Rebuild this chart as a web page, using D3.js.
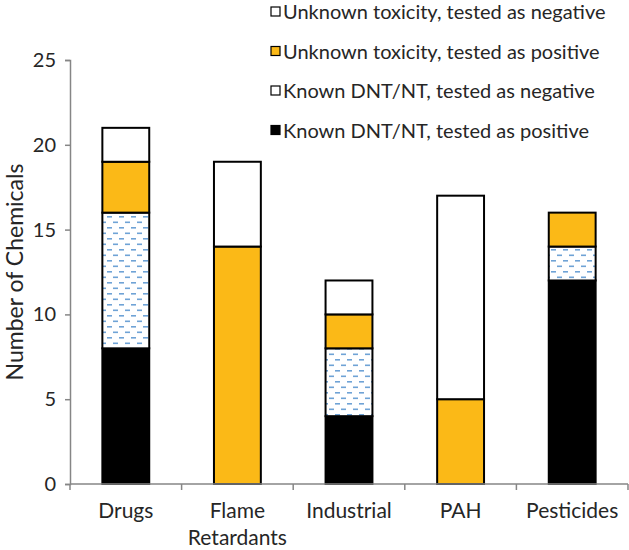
<!DOCTYPE html>
<html>
<head>
<meta charset="utf-8">
<script src="https://cdn.jsdelivr.net/npm/d3@7"></script>
<style>
  body { margin: 0; background: #fff; }
  svg { font-family: Lato, "Open Sans", sans-serif; }
</style>
</head>
<body>
<svg id="chart" width="629" height="550"></svg>
<script>
const categories = ["Drugs", "Flame\nRetardants", "Industrial", "PAH", "Pesticides"];
const knownPositive = [8, 0, 4, 0, 12];
const knownNegative = [8, 0, 4, 0, 2];
const unknownPositive = [3, 14, 2, 5, 2];
const unknownNegative = [2, 5, 2, 12, 0];
const seriesNames = [
  "Known DNT/NT, tested as positive",
  "Known DNT/NT, tested as negative",
  "Unknown toxicity, tested as positive",
  "Unknown toxicity, tested as negative"
];
const yTicks = [0, 5, 10, 15, 20, 25];

const margin = { top: 60, right: 1, bottom: 66, left: 70 };
const width = 629 - margin.left - margin.right;
const height = 550 - margin.top - margin.bottom;

const svg = d3.select("#chart");

// dashed pattern for "known, negative"
const defs = svg.append("defs");
const pat = defs.append("pattern")
  .attr("id", "dash")
  .attr("patternUnits", "userSpaceOnUse")
  .attr("width", 12)
  .attr("height", 11);
pat.append("rect").attr("width", 12).attr("height", 11).attr("fill", "#fff");
pat.append("rect").attr("x", 1).attr("y", 2).attr("width", 5).attr("height", 1.6).attr("fill", "#6fa3d6");
pat.append("rect").attr("x", 7).attr("y", 7.5).attr("width", 5).attr("height", 1.6).attr("fill", "#6fa3d6");

const fills = ["#000000", "url(#dash)", "#fbb917", "#ffffff"];

const data = categories.map((c, i) => ({
  cat: c,
  kp: knownPositive[i],
  kn: knownNegative[i],
  up: unknownPositive[i],
  un: unknownNegative[i]
}));
const keys = ["kp", "kn", "up", "un"];
const stacked = d3.stack().keys(keys)(data);

const g = svg.append("g")
  .attr("transform", "translate(" + margin.left + "," + margin.top + ")");

const x = d3.scaleBand()
  .range([0, width])
  .padding(0)
  .domain(categories);

const y = d3.scaleLinear()
  .range([height, 0])
  .domain([0, 25]);

const barW = x.bandwidth() * 0.42;

// bars
g.selectAll(".layer")
  .data(stacked)
  .enter().append("g")
  .attr("class", "layer")
  .attr("fill", (d, i) => fills[i])
  .selectAll("rect")
  .data(d => d.filter(s => s[1] - s[0] > 0))
  .enter().append("rect")
  .attr("x", d => x(d.data.cat) + (x.bandwidth() - barW) / 2)
  .attr("y", d => y(d[1]))
  .attr("width", barW)
  .attr("height", d => y(d[0]) - y(d[1]))
  .attr("stroke", "#000")
  .attr("stroke-width", 2);

// y axis
const yAxis = g.append("g")
  .call(d3.axisLeft(y).tickValues(yTicks).tickSize(5).tickPadding(9));
yAxis.selectAll("text")
  .style("font-size", "20px")
  .style("font-family", "Lato, sans-serif")
  .attr("fill", "#262626");
yAxis.selectAll("line, path").attr("stroke", "#868686").attr("stroke-width", 1.5);

// x axis: ticks at band boundaries, labels at centres
const xAxis = g.append("g")
  .attr("transform", "translate(0," + height + ")");
xAxis.append("line")
  .attr("x1", 0).attr("x2", width)
  .attr("stroke", "#868686").attr("stroke-width", 1.5);
const bounds = categories.map(c => x(c)).concat([width]);
xAxis.selectAll(".btick")
  .data(bounds)
  .enter().append("line")
  .attr("class", "btick")
  .attr("x1", d => d).attr("x2", d => d)
  .attr("y1", 0).attr("y2", 6)
  .attr("stroke", "#868686").attr("stroke-width", 1.5);
const xl = xAxis.selectAll(".xlab")
  .data(categories)
  .enter().append("text")
  .attr("class", "xlab")
  .attr("x", d => x(d) + x.bandwidth() / 2)
  .attr("y", 34)
  .attr("text-anchor", "middle")
  .style("font-size", "21px")
  .attr("fill", "#262626");
xl.selectAll("tspan")
  .data(d => d.split("\n"))
  .enter().append("tspan")
  .attr("x", function() { return this.parentNode.getAttribute("x"); })
  .attr("dy", (d, i) => i === 0 ? 0 : 27)
  .text(d => d);

// y title
svg.append("text")
  .attr("transform", "translate(23," + (margin.top + height / 2) + ") rotate(-90)")
  .attr("text-anchor", "middle")
  .style("font-size", "23px")
  .attr("fill", "#262626")
  .text("Number of Chemicals");

// legend (reverse stacking order)
const legendOrder = [3, 2, 1, 0];
const leg = svg.append("g").attr("transform", "translate(271,0)");
const items = leg.selectAll(".leg")
  .data(legendOrder)
  .enter().append("g")
  .attr("class", "leg")
  .attr("transform", (d, i) => "translate(0," + (12 + i * 39.5) + ")");
items.append("rect")
  .attr("x", 0).attr("y", -5)
  .attr("width", 9).attr("height", 9)
  .attr("fill", d => d === 1 ? "#fff" : fills[d])
  .attr("stroke", "#000").attr("stroke-width", 1.2);
items.append("text")
  .attr("x", 12)
  .attr("y", 7)
  .style("font-size", "20px")
  .attr("fill", "#262626")
  .text(d => seriesNames[d]);
</script>
</body>
</html>
